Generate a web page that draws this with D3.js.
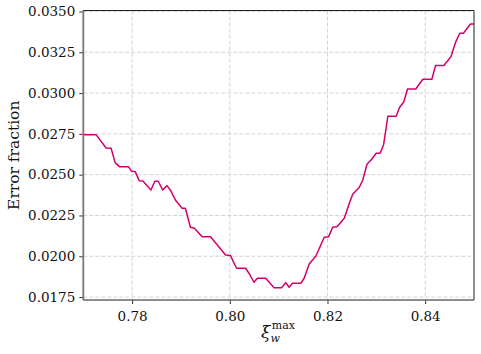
<!DOCTYPE html>
<html lang="en">
<head>
<meta charset="utf-8">
<title>Error fraction</title>
<script src="https://d3js.org/d3.v7.js"></script>
<style>
  body { margin: 0; background: #fff; }
  text { font-family: "DejaVu Serif", serif; fill: #111; }
</style>
</head>
<body>
<div id="canvas"></div>
<script type="text/javascript">
// values (vertices of the curve)
const xiMax = [0.7700, 0.77261, 0.77467, 0.77569, 0.77652, 0.77740, 0.77925, 0.77980, 0.78063, 0.78145,
  0.78221, 0.78385, 0.78464, 0.78535, 0.78624, 0.78714, 0.78782, 0.78885, 0.79023, 0.79090,
  0.79193, 0.79275, 0.79434, 0.79604, 0.79913, 0.80015, 0.80071, 0.80139, 0.80324, 0.80392,
  0.80494, 0.80564, 0.80735, 0.80905, 0.81058, 0.81146, 0.81214, 0.81284, 0.81454, 0.81522,
  0.81625, 0.81763, 0.81933, 0.82024, 0.82106, 0.82194, 0.82344, 0.82447, 0.82517, 0.82653,
  0.82722, 0.82811, 0.82893, 0.82996, 0.83078, 0.83150, 0.83236, 0.83407, 0.83475, 0.83561,
  0.83639, 0.83808, 0.83952, 0.84137, 0.84213, 0.84383, 0.84527, 0.84620, 0.84708, 0.84784,
  0.84928, 0.8500]
const errFrac = [0.027452, 0.027452, 0.026637, 0.026618, 0.025736, 0.025491, 0.025491, 0.025227, 0.025184, 0.024633,
  0.024615, 0.024063, 0.024596, 0.024596, 0.024063, 0.024327, 0.024063, 0.023451, 0.022942, 0.022942,
  0.021778, 0.021717, 0.021202, 0.021202, 0.020081, 0.020050, 0.019670, 0.019266, 0.019266, 0.018960,
  0.018408, 0.018653, 0.018653, 0.018077, 0.018077, 0.018384, 0.018102, 0.018347, 0.018347, 0.018653,
  0.019529, 0.020019, 0.021165, 0.021202, 0.021778, 0.021815, 0.022329, 0.023248, 0.023800, 0.024229,
  0.024676, 0.025656, 0.025901, 0.026312, 0.026312, 0.026851, 0.028579, 0.028579, 0.029118, 0.029455,
  0.030252, 0.030252, 0.030846, 0.030846, 0.031691, 0.031691, 0.032231, 0.033088, 0.033664, 0.033664,
  0.034234, 0.034234]
const xTicks = [0.78, 0.80, 0.82, 0.84]
const yTicks = [0.0175, 0.0200, 0.0225, 0.0250, 0.0275, 0.0300, 0.0325, 0.0350]

const width = 481
const height = 354
const margin = {top: 10.5, right: 7, bottom: 54, left: 83.3}

const svg = d3.select("#canvas")
  .append("svg")
    .attr("width", width)
    .attr("height", height)

const x = d3.scaleLinear()
  .domain([0.77, 0.85])
  .range([margin.left, width - margin.right])

const y = d3.scaleLinear()
  .domain([0.01732, 0.03506])
  .range([height - margin.bottom, margin.top])

// grid
svg.append("g")
  .selectAll("line")
  .data(xTicks)
  .join("line")
    .attr("x1", d => x(d)).attr("x2", d => x(d))
    .attr("y1", margin.top).attr("y2", height - margin.bottom)
    .attr("stroke", "#c8c8c8")
    .attr("stroke-dasharray", "4,2")
    .attr("stroke-width", 0.8)

svg.append("g")
  .selectAll("line")
  .data(yTicks)
  .join("line")
    .attr("x1", margin.left).attr("x2", width - margin.right)
    .attr("y1", d => y(d)).attr("y2", d => y(d))
    .attr("stroke", "#c8c8c8")
    .attr("stroke-dasharray", "4,2")
    .attr("stroke-width", 0.8)

// curve
const pts = xiMax.map((v, i) => [v, errFrac[i]])
svg.append("path")
  .datum(pts)
  .attr("fill", "none")
  .attr("stroke", "#d4006c")
  .attr("stroke-width", 1.5)
  .attr("stroke-linejoin", "round")
  .attr("d", d3.line().x(d => x(d[0])).y(d => y(d[1])))

// axes
const xAxis = svg.append("g")
  .attr("transform", `translate(0,${height - margin.bottom})`)
  .call(d3.axisBottom(x).tickValues(xTicks).tickFormat(d3.format(".2f")).tickSize(4).tickPadding(7))

const yAxis = svg.append("g")
  .attr("transform", `translate(${margin.left},0)`)
  .call(d3.axisLeft(y).tickValues(yTicks).tickFormat(d3.format(".4f")).tickSize(4).tickPadding(4))

xAxis.selectAll("text").style("font-size", "13.5px").style("font-family", "DejaVu Serif")
yAxis.selectAll("text").style("font-size", "13.5px").style("font-family", "DejaVu Serif")
xAxis.select(".domain").remove()
yAxis.select(".domain").remove()
svg.selectAll(".tick line").attr("stroke", "#333").attr("stroke-width", 1)

// frame
svg.append("line")
  .attr("x1", margin.left).attr("x2", margin.left)
  .attr("y1", margin.top).attr("y2", height - margin.bottom)
  .attr("stroke", "#777").attr("stroke-width", 1.8)
svg.append("line")
  .attr("x1", margin.left).attr("x2", width - margin.right)
  .attr("y1", height - margin.bottom).attr("y2", height - margin.bottom)
  .attr("stroke", "#666").attr("stroke-width", 1.6)
svg.append("line")
  .attr("x1", margin.left).attr("x2", width - margin.right)
  .attr("y1", margin.top).attr("y2", margin.top)
  .attr("stroke", "#222").attr("stroke-width", 1)
svg.append("line")
  .attr("x1", width - margin.right).attr("x2", width - margin.right)
  .attr("y1", margin.top).attr("y2", height - margin.bottom)
  .attr("stroke", "#444").attr("stroke-width", 1.2)

// labels
svg.append("text")
  .attr("transform", `translate(19,${(margin.top + height - margin.bottom) / 2}) rotate(-90)`)
  .attr("text-anchor", "middle")
  .style("font-size", "15.5px")
  .text("Error fraction")

const xl = svg.append("text")
  .attr("x", 278)
  .attr("y", 338)
  .attr("text-anchor", "middle")
  .style("font-size", "17px")
xl.append("tspan").style("font-style", "italic").text("ξ")
xl.append("tspan").attr("dy", 4).style("font-size", "11px").style("font-style", "italic").text("w")
xl.append("tspan").attr("dx", -8).attr("dy", -13).style("font-size", "11px").text("max")
</script>
</body>
</html>
